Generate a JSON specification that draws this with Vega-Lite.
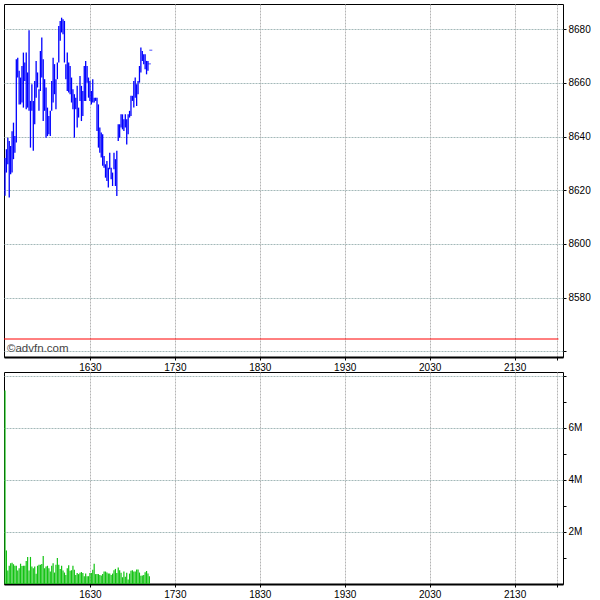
{
  "$schema": "https://vega.github.io/schema/vega-lite/v6.json",
  "background": "white",
  "padding": {"left": 3, "top": 3, "right": 0, "bottom": 0},
  "spacing": 15,
  "bounds": "flush",
  "data": {"values": [
    {"m":930,"hi":8632.0,"lo":8618.0,"vol":7440000},
    {"m":931,"hi":8635.3,"lo":8626.6,"vol":1290000},
    {"m":932,"hi":8639.6,"lo":8629.7,"vol":520000},
    {"m":933,"hi":8638.4,"lo":8617.3,"vol":700000},
    {"m":934,"hi":8636.5,"lo":8626.0,"vol":800000},
    {"m":935,"hi":8642.0,"lo":8626.6,"vol":820000},
    {"m":936,"hi":8645.2,"lo":8631.6,"vol":760000},
    {"m":937,"hi":8640.2,"lo":8634.0,"vol":700000},
    {"m":938,"hi":8668.8,"lo":8637.8,"vol":700000},
    {"m":939,"hi":8669.4,"lo":8662.0,"vol":520000},
    {"m":940,"hi":8664.5,"lo":8652.0,"vol":610000},
    {"m":941,"hi":8662.0,"lo":8652.0,"vol":780000},
    {"m":942,"hi":8666.3,"lo":8652.7,"vol":690000},
    {"m":943,"hi":8671.3,"lo":8650.8,"vol":700000},
    {"m":944,"hi":8667.6,"lo":8660.7,"vol":700000},
    {"m":945,"hi":8671.3,"lo":8650.2,"vol":880000},
    {"m":946,"hi":8663.9,"lo":8650.8,"vol":1040000},
    {"m":947,"hi":8679.6,"lo":8649.6,"vol":520000},
    {"m":948,"hi":8653.3,"lo":8635.9,"vol":1040000},
    {"m":949,"hi":8659.5,"lo":8649.6,"vol":670000},
    {"m":950,"hi":8653.3,"lo":8634.7,"vol":610000},
    {"m":951,"hi":8660.7,"lo":8644.6,"vol":670000},
    {"m":952,"hi":8668.2,"lo":8654.5,"vol":390000},
    {"m":953,"hi":8663.9,"lo":8658.3,"vol":700000},
    {"m":954,"hi":8657.6,"lo":8649.6,"vol":740000},
    {"m":955,"hi":8671.9,"lo":8657.0,"vol":740000},
    {"m":956,"hi":8676.9,"lo":8662.0,"vol":770000},
    {"m":957,"hi":8668.8,"lo":8645.8,"vol":1080000},
    {"m":958,"hi":8661.4,"lo":8649.6,"vol":610000},
    {"m":959,"hi":8658.3,"lo":8639.6,"vol":670000},
    {"m":960,"hi":8650.8,"lo":8640.2,"vol":700000},
    {"m":961,"hi":8647.7,"lo":8640.9,"vol":610000},
    {"m":962,"hi":8649.6,"lo":8640.2,"vol":480000},
    {"m":963,"hi":8660.7,"lo":8649.6,"vol":700000},
    {"m":964,"hi":8669.4,"lo":8652.7,"vol":800000},
    {"m":965,"hi":8667.0,"lo":8655.8,"vol":440000},
    {"m":966,"hi":8661.4,"lo":8650.2,"vol":740000},
    {"m":967,"hi":8667.6,"lo":8661.4,"vol":1000000},
    {"m":968,"hi":8681.2,"lo":8667.6,"vol":740000},
    {"m":969,"hi":8683.1,"lo":8675.7,"vol":580000},
    {"m":970,"hi":8684.3,"lo":8678.8,"vol":700000},
    {"m":971,"hi":8683.7,"lo":8678.1,"vol":520000},
    {"m":972,"hi":8683.1,"lo":8667.6,"vol":440000},
    {"m":973,"hi":8667.0,"lo":8661.4,"vol":350000},
    {"m":974,"hi":8671.3,"lo":8657.0,"vol":610000},
    {"m":975,"hi":8667.6,"lo":8656.4,"vol":720000},
    {"m":976,"hi":8666.3,"lo":8655.8,"vol":510000},
    {"m":977,"hi":8662.0,"lo":8652.7,"vol":530000},
    {"m":978,"hi":8657.6,"lo":8650.2,"vol":700000},
    {"m":979,"hi":8655.8,"lo":8639.6,"vol":550000},
    {"m":980,"hi":8654.5,"lo":8650.2,"vol":350000},
    {"m":981,"hi":8658.9,"lo":8643.4,"vol":420000},
    {"m":982,"hi":8650.8,"lo":8647.1,"vol":380000},
    {"m":983,"hi":8662.6,"lo":8653.3,"vol":430000},
    {"m":984,"hi":8658.9,"lo":8645.8,"vol":460000},
    {"m":985,"hi":8657.0,"lo":8647.7,"vol":420000},
    {"m":986,"hi":8666.3,"lo":8653.3,"vol":300000},
    {"m":987,"hi":8668.2,"lo":8653.3,"vol":400000},
    {"m":988,"hi":8666.3,"lo":8660.1,"vol":300000},
    {"m":989,"hi":8662.0,"lo":8654.5,"vol":300000},
    {"m":990,"hi":8660.7,"lo":8653.3,"vol":420000},
    {"m":991,"hi":8657.0,"lo":8652.0,"vol":420000},
    {"m":992,"hi":8661.4,"lo":8652.7,"vol":550000},
    {"m":993,"hi":8654.5,"lo":8652.7,"vol":780000},
    {"m":994,"hi":8654.5,"lo":8653.3,"vol":380000},
    {"m":995,"hi":8654.5,"lo":8642.1,"vol":380000},
    {"m":996,"hi":8652.0,"lo":8635.9,"vol":380000},
    {"m":997,"hi":8643.4,"lo":8634.0,"vol":350000},
    {"m":998,"hi":8641.5,"lo":8632.2,"vol":330000},
    {"m":999,"hi":8640.9,"lo":8629.1,"vol":380000},
    {"m":1000,"hi":8632.8,"lo":8628.4,"vol":480000},
    {"m":1001,"hi":8629.7,"lo":8624.7,"vol":480000},
    {"m":1002,"hi":8630.9,"lo":8623.5,"vol":440000},
    {"m":1003,"hi":8628.4,"lo":8621.0,"vol":400000},
    {"m":1004,"hi":8634.0,"lo":8627.8,"vol":400000},
    {"m":1005,"hi":8628.4,"lo":8624.1,"vol":350000},
    {"m":1006,"hi":8626.6,"lo":8621.6,"vol":400000},
    {"m":1007,"hi":8634.0,"lo":8627.8,"vol":530000},
    {"m":1008,"hi":8631.6,"lo":8621.6,"vol":580000},
    {"m":1009,"hi":8634.7,"lo":8617.9,"vol":420000},
    {"m":1010,"hi":8644.6,"lo":8638.4,"vol":630000},
    {"m":1011,"hi":8644.6,"lo":8639.6,"vol":530000},
    {"m":1012,"hi":8648.3,"lo":8643.4,"vol":430000},
    {"m":1013,"hi":8648.3,"lo":8642.7,"vol":260000},
    {"m":1014,"hi":8646.5,"lo":8642.1,"vol":480000},
    {"m":1015,"hi":8648.3,"lo":8643.4,"vol":280000},
    {"m":1016,"hi":8646.5,"lo":8637.1,"vol":430000},
    {"m":1017,"hi":8648.3,"lo":8640.9,"vol":170000},
    {"m":1018,"hi":8649.6,"lo":8647.1,"vol":400000},
    {"m":1019,"hi":8655.2,"lo":8647.7,"vol":510000},
    {"m":1020,"hi":8655.2,"lo":8653.3,"vol":530000},
    {"m":1021,"hi":8660.7,"lo":8650.8,"vol":480000},
    {"m":1022,"hi":8662.0,"lo":8654.5,"vol":480000},
    {"m":1023,"hi":8659.5,"lo":8651.4,"vol":560000},
    {"m":1024,"hi":8660.7,"lo":8655.8,"vol":560000},
    {"m":1025,"hi":8666.3,"lo":8660.1,"vol":440000},
    {"m":1026,"hi":8673.2,"lo":8663.9,"vol":320000},
    {"m":1027,"hi":8671.9,"lo":8668.2,"vol":330000},
    {"m":1028,"hi":8670.7,"lo":8667.0,"vol":350000},
    {"m":1029,"hi":8670.7,"lo":8665.1,"vol":450000},
    {"m":1030,"hi":8668.2,"lo":8663.2,"vol":500000},
    {"m":1031,"hi":8668.2,"lo":8664.5,"vol":400000},
    {"m":1032,"hi":8667.1,"lo":8667.1,"vol":300000},
    {"m":1033,"hi":8672.2,"lo":8672.2,"vol":0}
  ]},
  "vconcat": [
    {
      "width": 559,
      "height": 353,
      "layer": [
        {
          "mark": {"type": "rule", "color": "#0000ff", "strokeWidth": 1.3},
          "encoding": {
            "x": {"field": "m", "type": "quantitative",
              "scale": {"domain": [929.3, 1324.2], "nice": false, "zero": false, "padding": 0},
              "axis": {"values": [990, 1050, 1110, 1170, 1230, 1290, 1320],
                "labelExpr": "datum.value == 1320 ? '' : format(floor(datum.value / 60), '02d') + format(datum.value % 60, '02d')",
                "gridColor": "#b4b4b4", "tickSize": 3, "labelPadding": 2,
                "domain": true, "domainColor": "#000", "domainWidth": 2}},
            "y": {"field": "hi", "type": "quantitative",
              "scale": {"domain": [8557.9, 8689.4], "nice": false, "zero": false, "padding": 0},
              "axis": {"orient": "right",
                "values": [8560, 8570, 8580, 8590, 8600, 8610, 8620, 8630, 8640, 8650, 8660, 8670, 8680],
                "format": "d",
                "labelExpr": "datum.value % 20 == 0 && datum.value > 8560 ? datum.label : ''",
                "gridOpacity": {"condition": {"test": "datum.value % 20 != 0", "value": 0}, "value": 1},
                "tickSize": 3, "labelPadding": 2}},
            "y2": {"field": "lo"}
          }
        },
        {
          "transform": [{"filter": "datum.hi == datum.lo"}],
          "mark": {"type": "tick", "orient": "horizontal", "color": "#0000ff", "size": 3, "thickness": 1},
          "encoding": {
            "x": {"field": "m", "type": "quantitative"},
            "y": {"field": "hi", "type": "quantitative"}
          }
        },
        {
          "data": {"values": [{"prev_close": 8564.6, "from": 929.3, "to": 1321}]},
          "mark": {"type": "rule", "color": "#ff0000", "strokeWidth": 1},
          "encoding": {
            "y": {"field": "prev_close", "type": "quantitative"},
            "x": {"field": "from", "type": "quantitative"},
            "x2": {"field": "to"}
          }
        },
        {
          "data": {"values": [{"label": "©advfn.com", "m": 931.4, "p": 8559.9}]},
          "mark": {"type": "text", "align": "left", "baseline": "alphabetic", "font": "Liberation Sans", "fontSize": 11.5, "color": "#444"},
          "encoding": {
            "x": {"field": "m", "type": "quantitative"},
            "y": {"field": "p", "type": "quantitative"},
            "text": {"field": "label"}
          }
        }
      ]
    },
    {
      "width": 559,
      "height": 212,
      "mark": {"type": "bar", "color": "#12c312", "size": 1.2},
      "encoding": {
        "x": {"field": "m", "type": "quantitative",
          "scale": {"domain": [929.3, 1324.2], "nice": false, "zero": false, "padding": 0},
          "axis": {"values": [990, 1050, 1110, 1170, 1230, 1290, 1320],
            "labelExpr": "datum.value == 1320 ? '' : format(floor(datum.value / 60), '02d') + format(datum.value % 60, '02d')",
            "gridColor": "#b4b4b4", "tickSize": 3, "labelPadding": 2,
            "domain": true, "domainColor": "#000", "domainWidth": 2}},
        "y": {"field": "vol", "type": "quantitative",
          "scale": {"domain": [0, 8150000], "nice": false, "padding": 0},
          "axis": {"orient": "right",
            "values": [1000000, 2000000, 3000000, 4000000, 5000000, 6000000, 7000000, 8000000],
            "labelExpr": "datum.value % 2000000 == 0 && datum.value < 8000000 ? (datum.value / 1000000) + 'M' : ''",
            "gridOpacity": {"condition": {"test": "datum.value % 2000000 != 0", "value": 0}, "value": 1},
            "tickSize": 3, "labelPadding": 2}}
      }
    }
  ],
  "config": {
    "view": {"stroke": "#000", "strokeWidth": 1},
    "axis": {
      "title": null,
      "labelFont": "Liberation Sans",
      "labelFontSize": 10,
      "labelColor": "#000",
      "gridColor": "#a3b8b8",
      "gridDash": [2, 1],
      "tickColor": "#000",
      "domain": false
    }
  }
}
